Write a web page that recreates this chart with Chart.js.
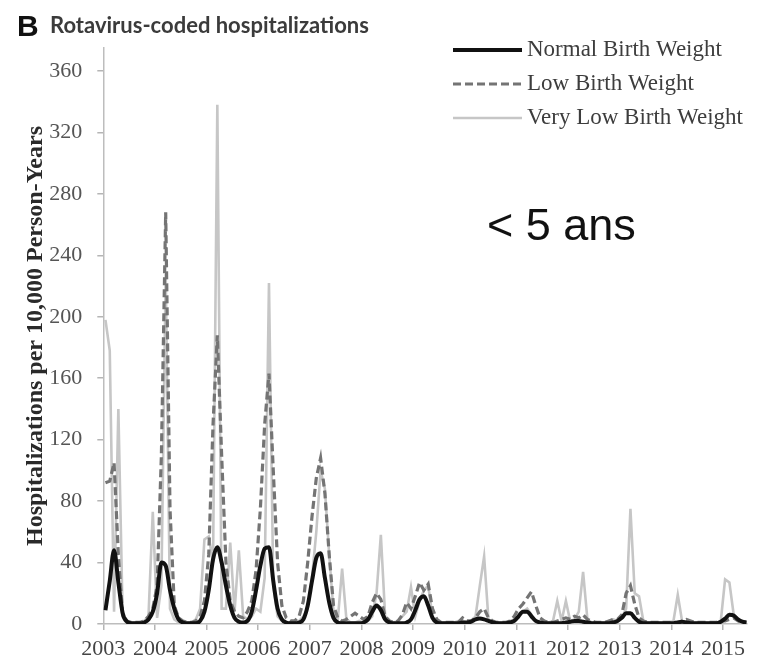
<!DOCTYPE html>
<html>
<head>
<meta charset="utf-8">
<script src="https://cdn.jsdelivr.net/npm/chart.js@4.4.1/dist/chart.umd.min.js"></script>
<style>
  html, body { margin: 0; padding: 0; background: #fff; }
  #wrap { position: relative; width: 757px; height: 663px; overflow: hidden; }
  #chart { position: absolute; left: 0; top: 0; }
  .lbl { position: absolute; white-space: nowrap; line-height: 1; }
  #panel { left: 17px; top: 9px; font: bold 30px "Liberation Sans", Arial, sans-serif; color: #111; }
  #title { left: 50px; top: 11px; font: bold 22px Lato, "Open Sans", sans-serif; color: #3b3b3b; }
  #note { left: 487px; top: 199px; font: 45px "Liberation Sans", Arial, sans-serif; color: #111; }
</style>
</head>
<body>
<div id="wrap">
  <canvas id="chart" width="757" height="663"></canvas>
  <div class="lbl" id="panel">B</div>
  <div class="lbl" id="title">Rotavirus-coded hospitalizations</div>
  <div class="lbl" id="note">&lt; 5 ans</div>
</div>
<script>
// Axis ticks
const yearTicks = [2003, 2004, 2005, 2006, 2007, 2008, 2009, 2010, 2011, 2012, 2013, 2014, 2015];
const yTicks = [0, 40, 80, 120, 160, 200, 240, 280, 320, 360];

// Monthly rates, Jan 2003 - Jun 2015 (one row per year)
const normalBW = [
  9, 28, 48, 27, 7, 1.5, 0.5, 0.5, 0.5, 1, 3, 8,
  20, 40, 38, 22, 10, 3, 1, 0.5, 0.5, 0.5, 2, 8,
  22, 42, 50, 40, 25, 12, 4, 1.5, 1, 2, 8, 22,
  38, 49, 50, 28, 10, 3, 1, 0.5, 0.5, 1, 3, 12,
  28, 43, 46, 30, 14, 4, 1, 0.5, 0.5, 0.5, 0.5, 0.5,
  1, 3, 8, 12, 9, 3, 1, 0.5, 0.5, 0.5, 1, 3,
  9, 16, 18, 12, 4, 1, 0.5, 0.5, 0.5, 0.5, 0.5, 1,
  1, 1.5, 3, 3.5, 3, 2, 1, 0.5, 0.5, 0.5, 1, 2,
  5, 8, 8, 5, 2, 1, 0.5, 0.5, 0.5, 0.5, 0.5, 1,
  1.5, 2, 2, 1.5, 1, 0.5, 0.5, 0.5, 0.5, 0.5, 1, 2,
  4, 7, 7, 4, 1.5, 0.5, 0.5, 0.5, 0.5, 0.5, 0.5, 0.5,
  0.5, 1, 1.5, 1, 0.5, 0.5, 0.5, 0.5, 0.5, 0.5, 0.5, 1.5,
  3.5, 6, 5.5, 3, 1.5, 1
];
const lowBW = [
  92, 93, 105, 45, 6, 2, 1, 1, 1, 2, 5, 10,
  25, 110, 268, 75, 12, 4, 2, 1, 1, 2, 5, 15,
  45, 130, 188, 110, 40, 15, 8, 5, 4, 8, 15, 35,
  75, 130, 163, 100, 40, 12, 4, 2, 2, 5, 15, 40,
  70, 95, 108, 85, 45, 12, 4, 2, 3, 5, 7, 5,
  3, 5, 14, 20, 16, 5, 2, 1, 2, 6, 14, 10,
  18, 27, 22, 26, 10, 3, 1, 1, 1, 1, 1, 4,
  2, 2, 4, 8, 10, 4, 2, 1, 1, 1, 2, 5,
  10, 13, 17, 21, 12, 4, 2, 1, 1, 2, 3, 4,
  3, 5, 4, 6, 3, 2, 1, 1, 1, 2, 3, 3,
  6, 20, 25, 13, 4, 2, 1, 1, 1, 1, 1, 1,
  1, 1, 2, 3, 2, 1, 1, 1, 1, 1, 1, 2,
  2, 3, 4, 2, 1, 1
];
const veryLowBW = [
  198, 178, 8, 140, 5, 2, 1, 1, 1, 2, 5, 73,
  4, 25, 228, 10, 3, 1, 1, 1, 1, 3, 10, 55,
  57, 40, 338, 10, 10, 53, 8, 48, 5, 3, 5, 10,
  8, 30, 222, 25, 5, 2, 1, 1, 1, 2, 5, 10,
  30, 60, 100, 88, 45, 8, 3, 36, 3, 1, 1, 2,
  1, 2, 5, 20, 58, 5, 1, 1, 2, 5, 8, 24,
  5, 15, 22, 25, 5, 1, 1, 1, 1, 1, 2, 2,
  1, 2, 5, 25, 44, 3, 1, 1, 1, 1, 2, 3,
  5, 8, 10, 6, 2, 1, 1, 1, 2, 15, 2, 15,
  2, 3, 8, 34, 3, 1, 1, 1, 1, 2, 3, 2,
  4, 10, 75, 20, 18, 2, 1, 1, 1, 1, 1, 1,
  2, 19, 2, 1, 1, 1, 1, 1, 1, 1, 1, 2,
  29, 27, 6, 2, 1, 1
];

const seriesNames = ['Normal Birth Weight', 'Low Birth Weight', 'Very Low Birth Weight'];

// month i sits in the middle of its month on the year axis
const toPoints = arr => arr.map((v, i) => ({ x: 2003 + (i + 0.5) / 12, y: v }));

const serif = '"Liberation Serif", "Times New Roman", serif';

// legend drawn in the upper right of the plot
const lineLegend = {
  id: 'lineLegend',
  afterDraw(chart) {
    const ctx = chart.ctx;
    const rows = [50, 84, 118];
    ctx.save();
    chart.data.datasets.forEach((ds, i) => {
      const y = rows[i];
      ctx.strokeStyle = ds.borderColor;
      ctx.lineWidth = ds.borderWidth;
      ctx.setLineDash(ds.borderDash || []);
      ctx.beginPath();
      ctx.moveTo(453, y);
      ctx.lineTo(522, y);
      ctx.stroke();
      ctx.setLineDash([]);
      ctx.fillStyle = '#3d3d3d';
      ctx.font = '23px ' + serif;
      ctx.textBaseline = 'middle';
      ctx.fillText(ds.label, 527, y);
    });
    ctx.restore();
  }
};

const whiteBg = {
  id: 'whiteBg',
  beforeDraw(chart) {
    const ctx = chart.ctx;
    ctx.save();
    ctx.fillStyle = '#fff';
    ctx.fillRect(0, 0, chart.width, chart.height);
    ctx.restore();
  }
};

new Chart(document.getElementById('chart'), {
  type: 'line',
  data: {
    datasets: [
      {
        label: seriesNames[0],
        data: toPoints(normalBW),
        borderColor: '#111111',
        borderWidth: 4,
        cubicInterpolationMode: 'monotone'
      },
      {
        label: seriesNames[1],
        data: toPoints(lowBW),
        borderColor: '#747474',
        borderWidth: 3.2,
        borderDash: [8, 4],
        tension: 0
      },
      {
        label: seriesNames[2],
        data: toPoints(veryLowBW),
        borderColor: '#c6c6c6',
        borderWidth: 2.6,
        tension: 0
      }
    ]
  },
  options: {
    responsive: false,
    animation: false,
    devicePixelRatio: 1,
    layout: { padding: { left: 21, right: 10.3, top: 48, bottom: 0 } },
    elements: { point: { radius: 0 } },
    plugins: { legend: { display: false }, tooltip: { enabled: false } },
    scales: {
      x: {
        type: 'linear',
        min: 2003,
        max: 2015.46,
        afterBuildTicks: s => { s.ticks = yearTicks.map(v => ({ value: v })); },
        afterFit: s => { s.height = 39; },
        grid: { drawOnChartArea: false, drawTicks: true, tickLength: 6, color: '#b5b5b5', lineWidth: 1.5 },
        border: { color: '#bdbdbd', width: 1.5 },
        ticks: {
          autoSkip: false, maxRotation: 0, padding: 6,
          color: '#444', font: { family: serif, size: 22 },
          callback: v => String(v)
        }
      },
      y: {
        min: 0,
        max: 375,
        afterBuildTicks: s => { s.ticks = yTicks.map(v => ({ value: v })); },
        afterFit: s => { s.width = 82.3; },
        grid: { drawOnChartArea: false, drawTicks: true, tickLength: 6, color: '#b5b5b5', lineWidth: 1.5 },
        border: { color: '#bdbdbd', width: 1.5 },
        ticks: { padding: 15, color: '#555', font: { family: serif, size: 22 } },
        title: {
          display: true,
          text: 'Hospitalizations per 10,000 Person-Years',
          color: '#2a2a2a',
          font: { family: serif, size: 24, weight: 'bold' },
          padding: { top: 0, bottom: 0 }
        }
      }
    }
  },
  plugins: [whiteBg, lineLegend]
});
</script>
</body>
</html>
